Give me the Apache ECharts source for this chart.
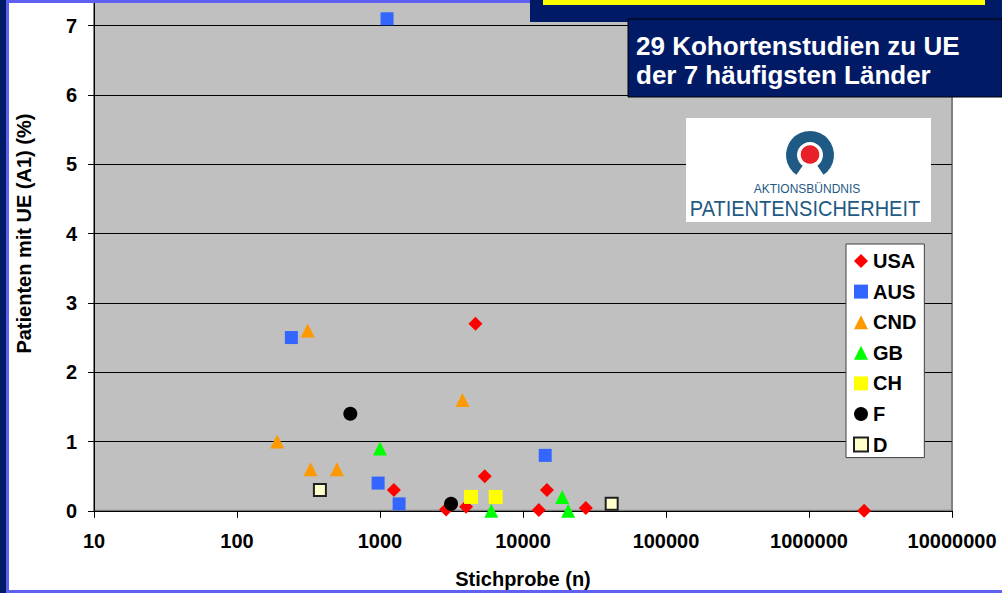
<!DOCTYPE html>
<html>
<head>
<meta charset="utf-8">
<script src="https://cdn.jsdelivr.net/npm/echarts/dist/echarts.min.js"></script>
<style>
  html, body { margin: 0; padding: 0; background: #fff; }
  #main { width: 1002px; height: 593px; }
</style>
</head>
<body>
<div id="main"></div>
<script>
  // Stichprobe (n) und Patienten mit UE (%) je Land
  var usa = [[4650, 2.7], [5400, 0.5], [1250, 0.3], [14700, 0.3], [2900, 0.02], [4000, 0.06], [12900, 0.01], [27500, 0.04], [2430000, 0]]
  var aus = [[1120, 7.1], [240, 2.5], [970, 0.4], [1360, 0.1], [14300, 0.8]]
  var cnd = [[312, 2.6], [191, 1.0], [327, 0.6], [500, 0.6], [3770, 1.6]]
  var gb = [[1000, 0.9], [6000, 0], [18800, 0.2], [20700, 0]]
  var ch = [[4330, 0.2], [6440, 0.2]]
  var fr = [[620, 1.4], [3140, 0.1]]
  var de = [[380, 0.3], [41700, 0.1]]

  var laender = ['USA', 'AUS', 'CND', 'GB', 'CH', 'F', 'D']
  var yTicks = [0, 1, 2, 3, 4, 5, 6, 7, 8]
  var xTicks = [10, 100, 1000, 10000, 100000, 1000000, 10000000]

  var navy = '#001a66'
  var hellblau = '#5f5ff0'
  var logoBlau = '#1f5a85'
  var font = '"Liberation Sans", Arial, sans-serif'

  function punkt (name, data, symbol, size, color, border) {
    return {
      name: name,
      type: 'scatter',
      data: data,
      symbol: symbol,
      symbolSize: size,
      itemStyle: {
        color: color,
        borderColor: border || color,
        borderWidth: border ? 2 : 0,
        opacity: 1
      },
      emphasis: { disabled: true }
    }
  }

  var myChart = echarts.init(document.getElementById('main'), null, { renderer: 'svg' })
  var option = {
    animation: false,
    backgroundColor: '#fff',
    textStyle: { fontFamily: font },
    grid: {
      left: 94,
      right: 50,
      top: -43.6,
      bottom: 82.2,
      outerBoundsMode: 'none',
      containLabel: false,
      show: true,
      backgroundColor: '#c0c0c0',
      borderColor: '#808080',
      borderWidth: 2
    },
    legend: {
      data: laender,
      orient: 'vertical',
      left: 846,
      top: 244,
      backgroundColor: '#fff',
      borderColor: '#404040',
      borderWidth: 1,
      borderRadius: 0,
      padding: [7, 8, 3, 7],
      itemGap: 10.6,
      itemWidth: 14,
      itemHeight: 14,
      selectedMode: false,
      textStyle: { fontFamily: font, fontSize: 20, fontWeight: 'bold', color: '#000' }
    },
    xAxis: {
      type: 'log',
      logBase: 10,
      min: xTicks[0],
      max: xTicks[xTicks.length - 1],
      name: 'Stichprobe (n)',
      nameLocation: 'middle',
      nameGap: 58,
      nameTextStyle: { fontFamily: font, fontSize: 20, fontWeight: 'bold', color: '#000' },
      axisLine: { lineStyle: { color: '#000', width: 1 } },
      axisTick: { show: true, inside: false, length: 7, lineStyle: { color: '#000' } },
      minorTick: { show: false },
      splitLine: { show: false },
      axisLabel: {
        margin: 20,
        fontFamily: font,
        fontSize: 20,
        fontWeight: 'bold',
        color: '#000',
        formatter: function (v) { return String(Math.round(v)) }
      }
    },
    yAxis: {
      type: 'value',
      min: yTicks[0],
      max: yTicks[yTicks.length - 1],
      interval: 1,
      name: 'Patienten mit UE (A1) (%)',
      nameLocation: 'middle',
      nameGap: 60,
      nameTextStyle: { fontFamily: font, fontSize: 20, fontWeight: 'bold', color: '#000' },
      axisLine: { show: true, lineStyle: { color: '#000', width: 1 } },
      axisTick: { show: true, inside: false, length: 6, lineStyle: { color: '#000' } },
      splitLine: { show: true, lineStyle: { color: '#000', width: 1 } },
      // die 8 liegt oberhalb des sichtbaren Bereichs
      axisLabel: { margin: 17, showMaxLabel: false, fontFamily: font, fontSize: 20, fontWeight: 'bold', color: '#000' }
    },
    series: [
      punkt('USA', usa, 'diamond', 14, '#ff0000'),
      punkt('AUS', aus, 'rect', 13, '#3366ff'),
      punkt('CND', cnd, 'triangle', 14, '#ff9900'),
      punkt('GB', gb, 'triangle', 14, '#00ff00'),
      punkt('CH', ch, 'rect', 14, '#ffff00'),
      punkt('F', fr, 'circle', 14, '#000000'),
      punkt('D', de, 'rect', 12, '#ffffcc', '#202020')
    ],
    graphic: [
      // Rahmen der Folie
      { type: 'rect', z: 100, shape: { x: 0, y: 0, width: 6, height: 593 }, style: { fill: navy } },
      { type: 'rect', z: 100, shape: { x: 6, y: 0, width: 3, height: 593 }, style: { fill: hellblau } },
      { type: 'rect', z: 100, shape: { x: 6, y: 0, width: 996, height: 3 }, style: { fill: hellblau } },
      { type: 'rect', z: 100, shape: { x: 6, y: 590, width: 996, height: 3 }, style: { fill: hellblau } },
      // Titelbalken oben rechts
      { type: 'rect', z: 101, shape: { x: 530, y: 0, width: 472, height: 22 }, style: { fill: navy } },
      { type: 'rect', z: 102, shape: { x: 543, y: 0, width: 442, height: 5 }, style: { fill: '#ffff00' } },
      { type: 'rect', z: 103, shape: { x: 628, y: 19, width: 374, height: 78 }, style: { fill: navy, stroke: '#000', lineWidth: 1 } },
      { type: 'text', z: 104, x: 636, y: 46, style: { text: '29 Kohortenstudien zu UE', fill: '#fff', font: 'bold 26px ' + font, verticalAlign: 'middle' } },
      { type: 'text', z: 104, x: 636, y: 75, style: { text: 'der 7 häufigsten Länder', fill: '#fff', font: 'bold 26px ' + font, verticalAlign: 'middle' } },
      // Logo
      { type: 'rect', z: 101, shape: { x: 686, y: 118, width: 245, height: 104 }, style: { fill: '#fff' } },
      { type: 'sector', z: 102, shape: { cx: 810, cy: 155, r: 24, r0: 13, startAngle: Math.PI / 2 + 0.6, endAngle: Math.PI / 2 - 0.6 + Math.PI * 2, clockwise: true }, style: { fill: logoBlau } },
      { type: 'circle', z: 102, shape: { cx: 810, cy: 154.5, r: 9.3 }, style: { fill: '#e8202a' } },
      { type: 'text', z: 102, x: 807, y: 189, style: { text: 'AKTIONSBÜNDNIS', fill: logoBlau, font: '12px ' + font, align: 'center', verticalAlign: 'middle' } },
      { type: 'text', z: 102, x: 805, y: 208, scaleX: 0.91, style: { text: 'PATIENTENSICHERHEIT', fill: logoBlau, font: '22px ' + font, align: 'center', verticalAlign: 'middle' } }
    ]
  }
  myChart.setOption(option)
</script>
</body>
</html>
